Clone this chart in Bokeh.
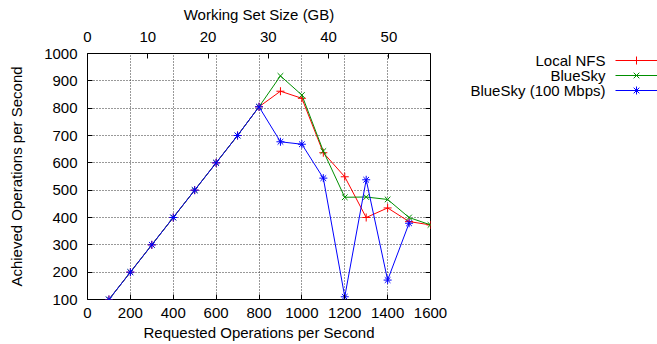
from bokeh.plotting import figure
from bokeh.models import Range1d, LinearAxis, FixedTicker
from bokeh.layouts import row
from bokeh.core.properties import value
from bokeh.embed import file_html
from bokeh.resources import INLINE

# ---- data ----
ops = [100, 200, 300, 400, 500, 600, 700, 800, 900, 1000, 1100, 1200, 1300, 1400, 1500, 1600]
local_nfs = [100, 200, 300, 400, 500, 600, 700, 805, 862, 836, 637, 549, 400, 435, 385, 373]
bluesky = [100, 200, 300, 400, 500, 600, 700, 805, 918, 848, 643, 474, 475, 466, 400, 373]
ops_100 = [100, 200, 300, 400, 500, 600, 700, 800, 900, 1000, 1100, 1200, 1300, 1400, 1500]
bluesky_100 = [100, 200, 300, 400, 500, 600, 700, 805, 677, 668, 544, 110, 538, 171, 379]

series_names = ["Local NFS", "BlueSky", "BlueSky (100 Mbps)"]
series_colors = ["#ff0000", "#008f00", "#0000ff"]
series_markers = ["cross", "x", "asterisk"]

x_ticks = [0, 200, 400, 600, 800, 1000, 1200, 1400, 1600]
y_ticks = [100, 200, 300, 400, 500, 600, 700, 800, 900, 1000]
gb_ticks = [0, 10, 20, 30, 40, 50]
gb_max = 56.9

FONT = "Liberation Sans"
FS = "15px"

p = figure(width=455, height=344, output_backend="svg", toolbar_location=None,
           x_range=Range1d(0, 1600), y_range=Range1d(100, 1000),
           min_border_left=87, min_border_top=53, min_border_bottom=45, min_border_right=25)
p.background_fill_color = "white"
p.border_fill_color = "white"
p.outline_line_color = "black"
p.outline_line_width = 1
p.outline_line_alpha = 1

p.extra_x_ranges = {"gb": Range1d(0, gb_max)}

def style_axis(ax, labels=True):
    ax.axis_line_color = None
    ax.major_tick_in = 5
    ax.major_tick_out = 0
    ax.minor_tick_line_color = None
    ax.major_tick_line_color = "black"
    ax.major_label_text_font = FONT
    ax.major_label_text_font_size = FS
    ax.major_label_text_color = "black"
    ax.axis_label_text_font = FONT
    ax.axis_label_text_font_size = FS
    ax.axis_label_text_font_style = "normal"
    ax.axis_label_text_color = "black"
    if not labels:
        ax.major_label_text_color = None
        ax.major_label_text_alpha = 0

xa = p.xaxis[0]
xa.ticker = FixedTicker(ticks=x_ticks)
xa.axis_label = "Requested Operations per Second"
style_axis(xa)
xa.major_label_standoff = 8
xa.axis_label_standoff = 3

ya = p.yaxis[0]
ya.ticker = FixedTicker(ticks=y_ticks)
ya.axis_label = "Achieved Operations per Second"
style_axis(ya)
ya.major_label_standoff = 10
ya.axis_label_standoff = 16

top = LinearAxis(x_range_name="gb", axis_label="Working Set Size (GB)")
top.ticker = FixedTicker(ticks=gb_ticks)
style_axis(top)
top.major_label_standoff = 12
top.axis_label_standoff = 6
p.add_layout(top, "above")

right = LinearAxis()
right.ticker = FixedTicker(ticks=y_ticks)
style_axis(right, labels=False)
right.major_label_standoff = 0
p.add_layout(right, "right")

p.xgrid.ticker = FixedTicker(ticks=x_ticks[1:-1])
p.ygrid.ticker = FixedTicker(ticks=y_ticks[1:-1])
for g in (p.xgrid[0], p.ygrid[0]):
    g.grid_line_color = "#333333"
    g.grid_line_dash = "1 2"
    g.grid_line_width = 1

xs_list = [ops, ops, ops_100]
ys_list = [local_nfs, bluesky, bluesky_100]
for xs, ys, c, m in zip(xs_list, ys_list, series_colors, series_markers):
    p.line(xs, ys, line_color=c, line_width=1)
    p.scatter(xs, ys, marker=m, size=8, line_color=c, fill_color=c, line_width=1)

# ---- legend panel (frame aligned with main frame; y in page pixels) ----
leg = figure(width=202, height=344, output_backend="svg", toolbar_location=None,
             x_range=Range1d(0, 202), y_range=Range1d(299, 53),
             min_border=0, min_border_left=0, min_border_right=0,
             min_border_top=53, min_border_bottom=45)
leg.axis.visible = False
leg.grid.visible = False
leg.outline_line_color = None
leg.background_fill_color = "white"
leg.border_fill_color = "white"

row_y = [60, 75, 90]
leg.text(x=[150] * 3, y=row_y, text=series_names, text_align="right",
         text_baseline="middle", text_font=value(FONT), text_font_size=FS,
         text_color="black")
for yy, c, m in zip(row_y, series_colors, series_markers):
    leg.segment(x0=[160], y0=[yy], x1=[202], y1=[yy], line_color=c, line_width=1)
    leg.scatter([181], [yy], marker=m, size=8, line_color=c, fill_color=c, line_width=1)

layout = row(p, leg)
open("out.html", "w").write(file_html(layout, INLINE))
